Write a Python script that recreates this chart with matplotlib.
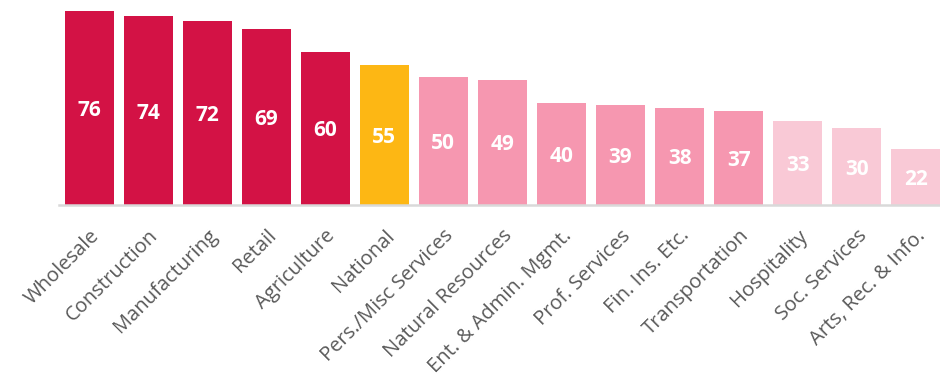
import matplotlib
matplotlib.use("Agg")
import matplotlib.pyplot as plt

categories = ["Wholesale", "Construction", "Manufacturing", "Retail", "Agriculture",
              "National", "Pers./Misc Services", "Natural Resources", "Ent. & Admin. Mgmt.",
              "Prof. Services", "Fin. Ins. Etc.", "Transportation", "Hospitality",
              "Soc. Services", "Arts, Rec. & Info."]
values = [76, 74, 72, 69, 60, 55, 50, 49, 40, 39, 38, 37, 33, 30, 22]
groups = ["high"] * 5 + ["national"] + ["mid"] * 6 + ["low"] * 3

palette = {"high": "#D31245", "national": "#FDB714", "mid": "#F697B0", "low": "#F9C9D6"}

fig = plt.figure(figsize=(9.4, 3.83), dpi=100)
ax = fig.add_axes([59.5 / 940, (383 - 205) / 383, (940 - 59.5) / 940, 194 / 383])

x = list(range(len(categories)))
bars = ax.bar(x, values, width=0.83, color=[palette[g] for g in groups])

for b, v in zip(bars, values):
    ax.text(b.get_x() + b.get_width() / 2, v / 2, str(v), ha="center", va="center_baseline",
            color="white", fontsize=15, fontweight="bold", family="Open Sans")

ax.set_xlim(-0.5, 14.41)
ax.set_ylim(0, 76)
ax.set_xticks(x)
ax.set_xticklabels(categories, rotation=45, ha="right", rotation_mode="anchor",
                   fontsize=14.5, color="#595959", family="Open Sans")
ax.tick_params(axis="x", length=0, pad=15)
ax.set_yticks([])
for s in ["top", "right", "left"]:
    ax.spines[s].set_visible(False)
ax.spines["bottom"].set_color("#D9D9D9")
ax.spines["bottom"].set_linewidth(1.8)

fig.savefig("out.png", dpi=100)
